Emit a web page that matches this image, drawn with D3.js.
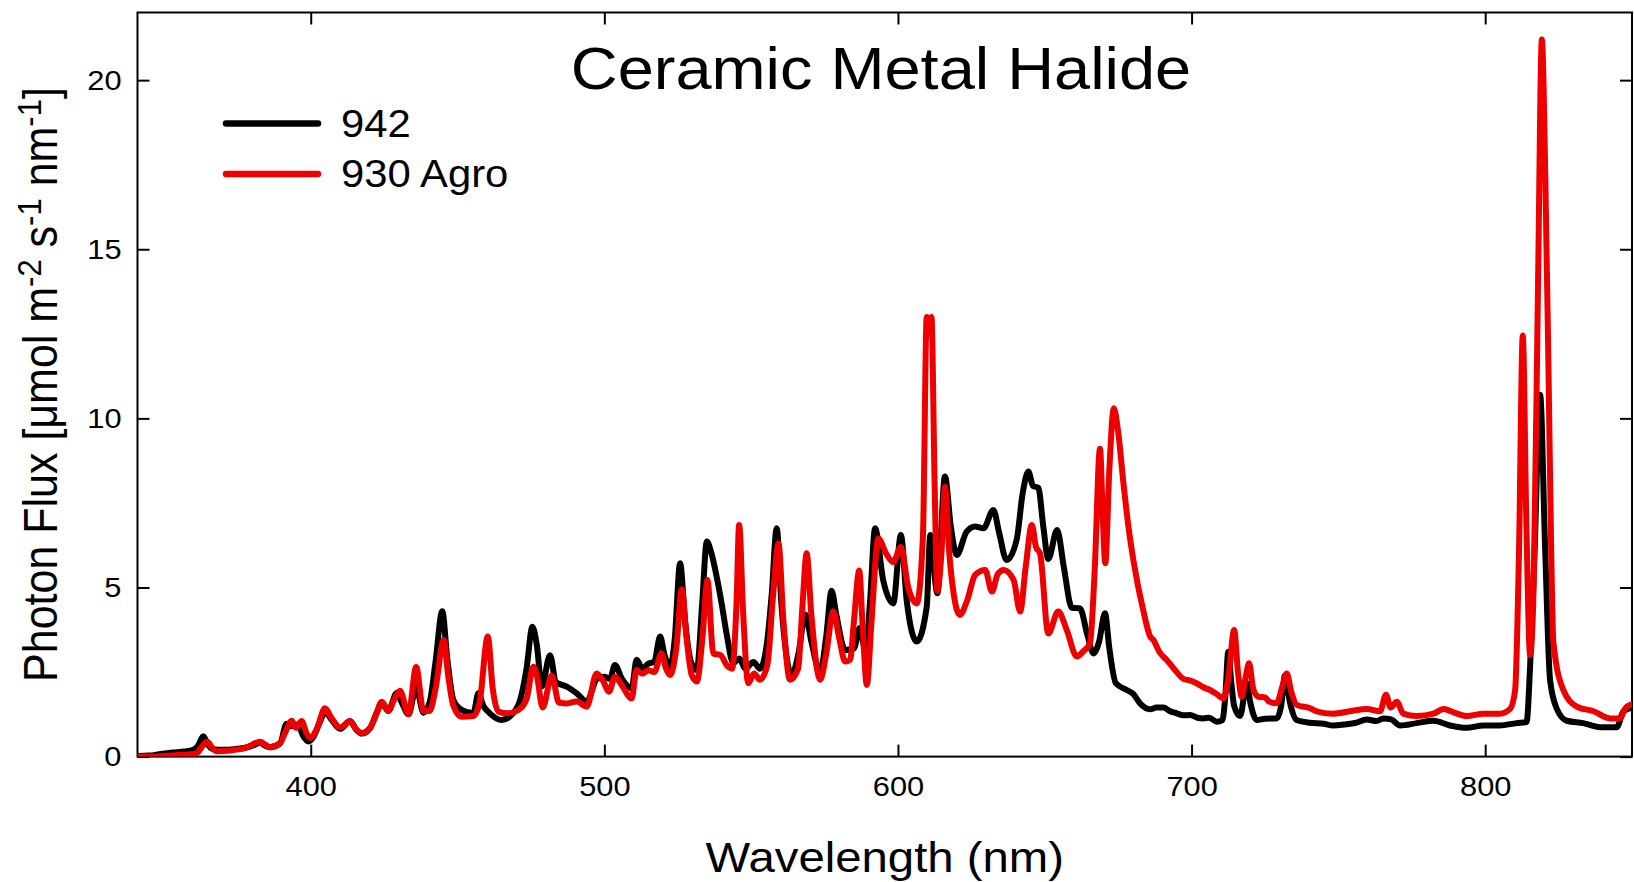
<!DOCTYPE html>
<html>
<head>
<meta charset="utf-8">
<script src="https://cdn.jsdelivr.net/npm/d3@7"></script>
<style>
  body { margin: 0; background: #fff; }
  svg { display: block; font-family: "Liberation Sans", Arial, sans-serif; }
</style>
</head>
<body>
<div id="chart"></div>
<script>
// ------------------------- data ------------------------//
// spectra: [wavelength nm, photon flux]
var spec942 = [
  [341, 0.02], [345, 0.03], [349, 0.08], [353, 0.12], [357, 0.15], [360, 0.2], [361.5, 0.3],
  [363.4, 0.6], [365, 0.35], [366.8, 0.22], [370, 0.2], [374, 0.22], [378, 0.27], [381, 0.35],
  [382.7, 0.42], [384.5, 0.32], [386.1, 0.28], [389.5, 0.38], [391.8, 0.97], [393.5, 0.9],
  [395.5, 0.95], [397.5, 0.6], [399.2, 0.45], [401, 0.6], [403, 1.0], [405, 1.32], [407, 1.1],
  [410, 0.82], [413.4, 1.05], [415.5, 0.8], [417.4, 0.68], [420.2, 0.84], [422.5, 1.3],
  [424.2, 1.58], [426.4, 1.35], [429.3, 1.88], [431, 1.6], [433.3, 1.25], [435.9, 2.05],
  [438.4, 1.3], [440.5, 1.6], [442.5, 2.8], [444.8, 4.3], [446.5, 2.9], [448.6, 1.67],
  [451.4, 1.38], [455.4, 1.28], [457.1, 1.87], [458.8, 1.5], [461, 1.28], [465, 1.08],
  [468, 1.2], [471.3, 1.67], [473.5, 2.6], [475.5, 3.84], [477, 3.3], [478.7, 2.07],
  [481.5, 3.0], [483.5, 2.2], [487.2, 2.07], [490.6, 1.87], [494, 1.63], [497.5, 2.3],
  [500, 2.36], [501.9, 2.3], [503.6, 2.71], [506, 2.3], [509.3, 2.02], [511, 2.86], [513, 2.6],
  [515, 2.75], [517, 2.8], [519, 3.55], [520.5, 3.0], [522.4, 2.66], [524, 3.5], [525.8, 5.72],
  [527.5, 4.0], [529.5, 2.8], [531.5, 2.56], [533.3, 4.5], [534.9, 6.36], [536.5, 6.0],
  [538.3, 5.3], [540, 4.5], [541.7, 3.6], [543.9, 2.76], [546, 2.9], [548, 2.6], [550.8, 2.8],
  [553, 2.6], [555.3, 3.3], [557, 4.8], [558.7, 6.75], [560.3, 4.5], [562, 3.0], [563.8, 2.4],
  [566, 3.0], [568.5, 4.2], [570.5, 3.4], [573.5, 2.5], [575.5, 3.5], [577.4, 4.9], [579, 4.2],
  [582, 3.15], [585, 3.2], [587, 3.8], [589, 3.1], [590.5, 4.6], [592.2, 6.75], [595, 5.2],
  [598.4, 4.53], [601, 6.55], [603, 4.6], [606.4, 3.4], [609.8, 4.43], [611, 6.55],
  [613.4, 4.83], [616, 8.28], [618, 6.8], [620, 5.96], [623.4, 6.65], [626.3, 6.8],
  [629.1, 6.75], [632.5, 7.29], [634.5, 6.6], [637, 5.81], [640.4, 6.4], [642.5, 7.8],
  [644.4, 8.43], [646, 8.0], [647.8, 7.95], [649.5, 6.8], [651.2, 5.84], [654.2, 6.7],
  [656.5, 5.6], [659.2, 4.4], [662, 4.38], [664.5, 3.6], [666.6, 3.05], [668.5, 3.4],
  [670.5, 4.24], [672, 3.2], [674.2, 2.17], [677.9, 1.97], [680.2, 1.85], [682.4, 1.58],
  [685.9, 1.4], [688, 1.45], [690.4, 1.45], [692.5, 1.35], [694.9, 1.28], [697.2, 1.22],
  [699.5, 1.23], [702, 1.15], [704, 1.13], [706, 1.15], [708.6, 1.03], [710.5, 1.08],
  [711.5, 1.8], [712.5, 3.1], [713.5, 2.2], [714.5, 1.5], [716.5, 1.2], [718.8, 2.17],
  [720, 1.6], [722.2, 1.08], [725, 1.12], [729, 1.13], [730.5, 1.5], [731.8, 2.4], [733.5, 1.6],
  [735.8, 1.08], [740.4, 1.0], [745, 0.97], [748.3, 0.92], [752, 0.95], [756, 1.0],
  [759.6, 1.1], [763, 1.05], [765.3, 1.13], [768, 1.1], [771, 0.92], [776.7, 0.99],
  [782.4, 1.06], [788, 0.92], [793.7, 0.85], [799.4, 0.92], [805, 0.92], [810.7, 0.99],
  [814.1, 1.02], [815.3, 2.68], [816.8, 6.0], [818.7, 10.7], [820.4, 6.2], [822.1, 2.26],
  [824.4, 1.41], [827.8, 1.06], [833.4, 0.99], [839.1, 0.87], [844.8, 0.87], [847.1, 1.34],
  [850, 1.45]
];

var specAgro = [
  [341, 0.0], [345, 0.0], [350, 0.02], [355, 0.05], [359, 0.07], [361.2, 0.1], [363, 0.3],
  [364.8, 0.44], [366.5, 0.25], [368, 0.16], [372.5, 0.18], [378.2, 0.27], [382.7, 0.44],
  [386.1, 0.28], [389.5, 0.4], [391.5, 0.75], [393.5, 1.06], [395, 0.85], [396.9, 1.05],
  [398.5, 0.7], [399.8, 0.55], [402, 0.8], [404.9, 1.43], [407, 1.15], [410, 0.86],
  [413.4, 1.05], [415.5, 0.8], [417.4, 0.7], [420.2, 0.85], [422.5, 1.3], [424.2, 1.62],
  [426.4, 1.35], [428.5, 1.7], [430.4, 1.95], [433.3, 1.25], [435.9, 2.65], [438.4, 1.35],
  [440.5, 1.35], [442.5, 2.0], [445.3, 3.45], [446.8, 2.4], [448.6, 1.5], [451.4, 1.18],
  [455.4, 1.2], [457.5, 1.6], [460.3, 3.55], [462, 2.0], [463.9, 1.33], [467, 1.28],
  [470.7, 1.38], [473.5, 1.7], [475.8, 2.66], [477, 2.4], [479, 1.45], [482.1, 2.4],
  [484.5, 1.6], [487.2, 1.57], [490.6, 1.63], [494, 1.48], [497.4, 2.46], [499.5, 2.25],
  [501.6, 1.92], [503.6, 2.36], [506, 2.1], [509.3, 1.72], [511, 2.56], [513, 2.45],
  [515, 2.55], [517, 2.5], [519.5, 3.05], [521, 2.6], [522.4, 2.41], [524.5, 3.2],
  [526.4, 4.95], [528, 3.5], [529.8, 2.4], [531.5, 2.22], [533.5, 3.6], [535.1, 5.22],
  [537.1, 3.05], [539.6, 3.0], [541.7, 2.7], [543.5, 2.6], [545, 4.5], [545.9, 6.85],
  [547.3, 4.2], [549, 2.17], [551, 2.46], [553, 2.27], [555.5, 2.7], [557.5, 4.8],
  [559.3, 6.3], [561, 4.0], [563.2, 2.27], [566, 2.6], [567.5, 4.5], [568.9, 6.01],
  [570.5, 4.2], [573.5, 2.27], [575.5, 3.0], [578, 4.29], [580, 3.5], [582, 2.81],
  [583.7, 2.86], [585, 4.0], [586.8, 5.5], [588, 3.8], [589.4, 2.12], [591, 4.0],
  [593.3, 6.45], [596, 6.0], [598.4, 5.75], [601, 6.2], [603.5, 5.0], [606.4, 4.53],
  [608.5, 6.5], [609.8, 13.0], [610.6, 12.5], [611.4, 13.0], [612.5, 8.0], [613.4, 4.9],
  [614.8, 6.0], [616, 7.98], [617.5, 6.0], [619, 4.8], [621.1, 4.19], [623.5, 4.6],
  [626.3, 5.37], [629.7, 5.52], [632, 4.88], [634, 5.4], [636, 5.52], [639.4, 5.22],
  [641.6, 4.29], [643.5, 5.6], [645.6, 6.85], [647, 6.2], [648.4, 6.0], [651.2, 3.64],
  [654.6, 4.29], [657.5, 3.74], [660.9, 2.96], [663, 3.1], [665.4, 3.35], [667, 5.5],
  [668.8, 9.1], [669.8, 7.0], [670.6, 5.72], [672, 8.5], [673.5, 10.3], [675, 9.6],
  [676.8, 8.08], [678.5, 6.8], [680.2, 5.8], [683.6, 4.3], [685.9, 3.55], [687, 3.45],
  [689, 3.1], [691.5, 2.86], [694, 2.6], [697.2, 2.3], [699.5, 2.25], [701.7, 2.17],
  [704, 2.05], [706.3, 1.97], [708.5, 1.85], [710.8, 1.72], [712.5, 2.3], [714.5, 3.74],
  [715.8, 2.5], [717.1, 1.77], [718.3, 2.3], [719.6, 2.76], [721, 2.0], [722.8, 1.77],
  [725, 1.75], [726.5, 1.62], [729, 1.58], [731, 2.1], [732.4, 2.46], [734, 1.9],
  [735.8, 1.53], [740.4, 1.43], [742.6, 1.34], [748, 1.27], [754, 1.34], [759.6, 1.41],
  [764.2, 1.34], [766.2, 1.83], [767.8, 1.45], [769.9, 1.62], [772.1, 1.27], [776.7, 1.2],
  [782.4, 1.27], [785.8, 1.41], [789.5, 1.3], [793.7, 1.2], [799.4, 1.27], [805, 1.27],
  [808.5, 1.41], [810.2, 1.97], [811.5, 6.0], [812.8, 12.45], [814, 7.0], [815.3, 3.0],
  [816.5, 5.0], [818, 14.0], [819.3, 21.2], [820.5, 17.0], [821.5, 11.8], [822.5, 6.0],
  [823.2, 3.4], [826.6, 1.97], [831.2, 1.48], [836.9, 1.34], [842.5, 1.13], [845.9, 1.13],
  [847.6, 1.41], [850, 1.55]
];

var seriesNames = ["942", "930 Agro"];
var seriesColors = ["#000000", "#ee0000"];
var xTicks = [400, 500, 600, 700, 800];
var yTicks = [0, 5, 10, 15, 20];
var xDomain = [341, 850];
var yDomain = [0, 22];

// ------------------------- svg init ------------------------//

var width = 1634,
  height = 882;
var margin = { top: 12.5, right: 2, bottom: 125.4, left: 137.5 };
var innerW = width - margin.left - margin.right,
  innerH = height - margin.top - margin.bottom;
var stretch = 1.1; // text in the picture is a bit wider than plain Arial

var svg = d3.select("#chart").append("svg")
  .attr("width", width)
  .attr("height", height);

var g = svg.append("g")
  .attr("transform", "translate(" + margin.left + "," + margin.top + ")");

var x = d3.scaleLinear().domain(xDomain).range([0, innerW]);
var y = d3.scaleLinear().domain(yDomain).range([innerH, 0]);

svg.append("defs").append("clipPath").attr("id", "plotClip")
  .append("rect").attr("width", innerW).attr("height", innerH);

// ------------------------- axes ------------------------//

function styleAxis(sel) {
  sel.select(".domain").remove();
  sel.selectAll(".tick line").attr("stroke", "#000").attr("stroke-width", 2);
  sel.selectAll(".tick text")
    .attr("fill", "#000")
    .style("font-size", "28px");
}

var xAxis = g.append("g")
  .attr("transform", "translate(0," + innerH + ")")
  .call(d3.axisBottom(x).tickValues(xTicks).tickSize(-12).tickPadding(20).tickFormat(d3.format("d")))
  .call(styleAxis);
xAxis.selectAll(".tick text").attr("transform", "scale(" + stretch + ",1)");

g.append("g")
  .call(d3.axisTop(x).tickValues(xTicks).tickSize(-12).tickFormat(""))
  .call(styleAxis);

var yAxis = g.append("g")
  .call(d3.axisLeft(y).tickValues(yTicks).tickSize(-12).tickPadding(16).tickFormat(d3.format("d")))
  .call(styleAxis);
yAxis.selectAll(".tick text")
  .attr("x", -16 / stretch)
  .attr("transform", "scale(" + stretch + ",1)");

g.append("g")
  .attr("transform", "translate(" + innerW + ",0)")
  .call(d3.axisRight(y).tickValues(yTicks).tickSize(-12).tickFormat(""))
  .call(styleAxis);

// frame
g.append("rect")
  .attr("width", innerW)
  .attr("height", innerH)
  .attr("fill", "none")
  .attr("stroke", "#000")
  .attr("stroke-width", 2);

// ------------------------- lines ------------------------//

var line = d3.line()
  .x(function (d) { return x(d[0]); })
  .y(function (d) { return y(d[1]); })
  .curve(d3.curveMonotoneX);

var plot = g.append("g").attr("clip-path", "url(#plotClip)");

[spec942, specAgro].forEach(function (s, i) {
  plot.append("path")
    .datum(s)
    .attr("fill", "none")
    .attr("stroke", seriesColors[i])
    .attr("stroke-width", 6)
    .attr("stroke-linejoin", "round")
    .attr("stroke-linecap", "round")
    .attr("d", line);
});

// ------------------------- texts ------------------------//

svg.append("text")
  .attr("transform", "translate(881,89) scale(" + stretch + ",1)")
  .attr("text-anchor", "middle")
  .style("font-size", "59px")
  .text("Ceramic Metal Halide");

svg.append("text")
  .attr("transform", "translate(" + (margin.left + innerW / 2) + ",872) scale(" + stretch + ",1)")
  .attr("text-anchor", "middle")
  .style("font-size", "43px")
  .text("Wavelength (nm)");

var yLab = svg.append("text")
  .attr("transform", "translate(57," + (margin.top + innerH / 2) + ") scale(" + stretch + ",1) rotate(-90)")
  .attr("text-anchor", "middle")
  .style("font-size", "43px");
yLab.append("tspan").text("Photon Flux [\u03bcmol m");
yLab.append("tspan").attr("dy", -15).style("font-size", "31px").text("-2");
yLab.append("tspan").attr("dy", 15).text(" s");
yLab.append("tspan").attr("dy", -15).style("font-size", "31px").text("-1");
yLab.append("tspan").attr("dy", 15).text(" nm");
yLab.append("tspan").attr("dy", -15).style("font-size", "31px").text("-1");
yLab.append("tspan").attr("dy", 15).text("]");

// legend
var legend = svg.append("g");
seriesNames.forEach(function (name, i) {
  var ly = 123.5 + i * 50.5;
  legend.append("line")
    .attr("x1", 226).attr("x2", 318)
    .attr("y1", ly).attr("y2", ly)
    .attr("stroke", seriesColors[i])
    .attr("stroke-width", 6.5)
    .attr("stroke-linecap", "round");
  legend.append("text")
    .attr("transform", "translate(341," + (ly + 13) + ") scale(" + stretch + ",1)")
    .style("font-size", "38px")
    .text(name);
});
</script>
</body>
</html>
